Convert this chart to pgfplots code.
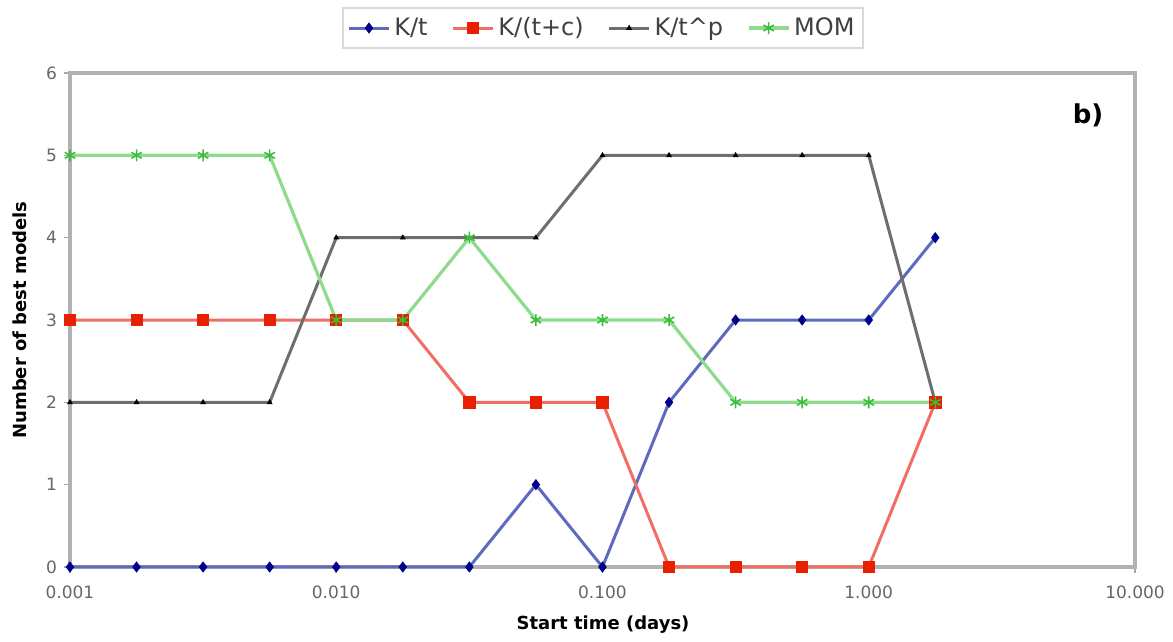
\documentclass[border=0pt]{standalone}
\usepackage{fontspec}
\setmainfont{DejaVu Sans}
\usepackage{pgfplots}
\pgfplotsset{compat=1.18}
\definecolor{ktline}{RGB}{95,105,190}
\definecolor{ktmark}{RGB}{0,0,140}
\definecolor{tcline}{RGB}{240,110,100}
\definecolor{tcmark}{RGB}{232,32,0}
\definecolor{tpline}{RGB}{110,110,110}
\definecolor{tpmark}{RGB}{0,0,0}
\definecolor{moline}{RGB}{140,220,140}
\definecolor{momark}{RGB}{60,190,60}
\begin{document}
\begin{tikzpicture}
\useasboundingbox (-35pt,-37.5pt) rectangle (551.5pt,283.5pt);
\begin{axis}[
  at={(0,0)}, anchor=south west,
  scale only axis, width=532.5pt, height=247pt,
  xmode=log, log basis x=10,
  xmin=0.001, xmax=10, ymin=0, ymax=6,
  xtick={0.001,0.01,0.1,1,10},
  xticklabels={0.001,0.010,0.100,1.000,10.000},
  ytick={0,1,2,3,4,5,6},
  xminorticks=false,
  clip=false,
  tick align=outside, major tick length=3pt,
  tick style={black!35, line width=0.8pt},
  xtick pos=bottom, ytick pos=left,
  axis line style={black!30, line width=2pt},
  /pgf/number format/assume math mode=true,
  ticklabel style={font=\fontsize{8.5}{10}\selectfont, text=black!60},
  xticklabel style={yshift=-3pt},
  xlabel={Start time (days)},
  ylabel={Number of best models},
  label style={font=\fontsize{9}{11}\selectfont\bfseries},
  xlabel style={at={(axis description cs:0.5005,-0.117)}, anchor=center},
  ylabel style={at={(axis description cs:-0.047,0.5)}, anchor=center},
  legend style={at={(axis description cs:0.5005,1.091)}, anchor=center,
    legend columns=4, draw=black!15, line width=1pt,
    font=\fontsize{12}{14}\selectfont, text=black!75,
    inner sep=2.5pt,
    /tikz/every even column/.append style={column sep=10pt}},
  legend image code/.code={%
    \draw[mark repeat=2,mark phase=2,#1] plot coordinates {(0cm,0cm) (0.35cm,0cm) (0.7cm,0cm)};},
]
\addplot[color=ktline, line width=1.5pt, mark=diamond*, mark size=2.5pt,
  mark options={solid, fill=ktmark, draw=ktmark, line width=0.4pt}] coordinates {
(0.001,0) (0.0017783,0) (0.0031623,0) (0.0056234,0) (0.01,0) (0.017783,0) (0.031623,0)
(0.056234,1) (0.1,0) (0.17783,2) (0.31623,3) (0.56234,3) (1,3) (1.7783,4)};
\addlegendentry{K/t}
\addplot[color=tcline, line width=1.5pt, mark=square*, mark size=2.8pt,
  mark options={solid, fill=tcmark, draw=tcmark, line width=0.4pt}] coordinates {
(0.001,3) (0.0017783,3) (0.0031623,3) (0.0056234,3) (0.01,3) (0.017783,3) (0.031623,2)
(0.056234,2) (0.1,2) (0.17783,0) (0.31623,0) (0.56234,0) (1,0) (1.7783,2)};
\addlegendentry{K/(t+c)}
\addplot[color=tpline, line width=1.5pt, mark=triangle*, mark size=1.3pt,
  mark options={solid, fill=tpmark, draw=tpmark, line width=0.4pt}] coordinates {
(0.001,2) (0.0017783,2) (0.0031623,2) (0.0056234,2) (0.01,4) (0.017783,4) (0.031623,4)
(0.056234,4) (0.1,5) (0.17783,5) (0.31623,5) (0.56234,5) (1,5) (1.7783,2)};
\addlegendentry{K/t\^{}p}
\addplot[color=moline, line width=1.6pt, mark=asterisk, mark size=3pt,
  mark options={solid, draw=momark, line width=0.8pt}] coordinates {
(0.001,5) (0.0017783,5) (0.0031623,5) (0.0056234,5) (0.01,3) (0.017783,3) (0.031623,4)
(0.056234,3) (0.1,3) (0.17783,3) (0.31623,2) (0.56234,2) (1,2) (1.7783,2)};
\addlegendentry{MOM}
\node[font=\fontsize{13}{15}\selectfont\bfseries] at (rel axis cs:0.956,0.915) {b)};
\end{axis}
\end{tikzpicture}
\end{document}
